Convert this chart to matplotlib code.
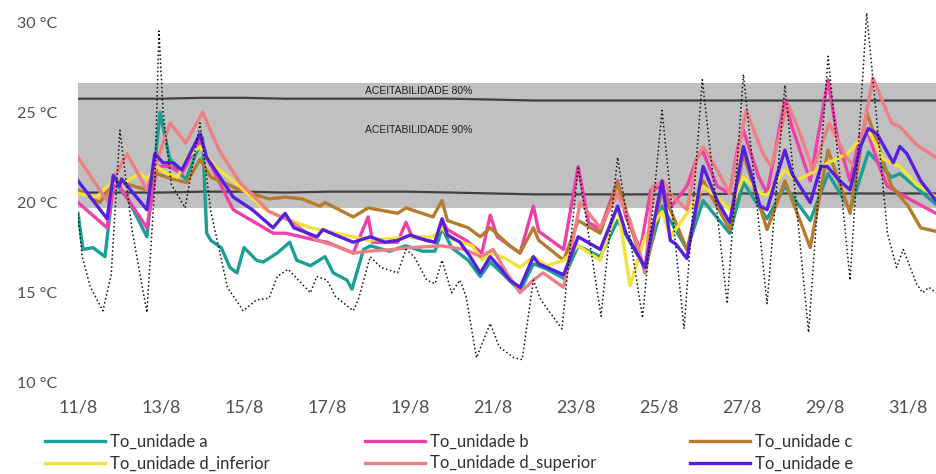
import matplotlib.pyplot as plt

plt.rcParams['font.family'] = ['Lato', 'DejaVu Sans']

# tempo em dias desde 11/8 00h
dias = [0, 2, 4, 6, 8, 10, 12, 14, 16, 18, 20]
rotulos = ["11/8", "13/8", "15/8", "17/8", "19/8", "21/8", "23/8", "25/8", "27/8", "29/8", "31/8"]
temps = [10, 15, 20, 25, 30]
temp_rot = ["10 °C", "15 °C", "20 °C", "25 °C", "30 °C"]

# limites de aceitabilidade
t_lim = [0, 1, 2, 3, 4, 5, 6, 7, 8, 9, 10, 11, 12, 13, 14, 15, 16, 17, 18, 19, 20, 20.67]
sup90 = [25.75, 25.75, 25.75, 25.8, 25.8, 25.75, 25.75, 25.75, 25.75, 25.75, 25.7,
         25.65, 25.65, 25.65, 25.65, 25.65, 25.65, 25.65, 25.65, 25.65, 25.65, 25.65]
inf90 = [20.55, 20.55, 20.55, 20.6, 20.6, 20.55, 20.6, 20.6, 20.6, 20.55, 20.5,
         20.45, 20.45, 20.45, 20.45, 20.45, 20.5, 20.5, 20.5, 20.5, 20.5, 20.5]
sup80 = 26.6
inf80 = 19.7

# exterior
t_ext = [0, 0.1, 0.3, 0.6, 0.8, 1.01, 1.3, 1.66, 1.85, 1.95, 2.05, 2.25, 2.58, 2.94, 3.2,
         3.6, 3.98, 4.3, 4.6, 4.8, 5.06, 5.35, 5.6, 5.75, 6.0, 6.2, 6.63, 6.75, 7.04, 7.3,
         7.7, 7.9, 8.1, 8.4, 8.6, 8.77, 8.9, 9.0, 9.2, 9.35, 9.6, 9.93, 10.15, 10.5, 10.7,
         10.97, 11.15, 11.66, 12.05, 12.6, 13.0, 13.6, 14.07, 14.6, 15.04, 15.64, 16.03,
         16.6, 17.03, 17.6, 18.07, 18.6, 19.0, 19.5, 19.72, 19.88, 20.05, 20.2, 20.35, 20.5, 20.67]
ext = [19.4, 17.0, 15.3, 14.0, 16.0, 24.0, 18.5, 13.9, 21.0, 29.5, 25.0, 21.0, 19.7, 24.4, 19.5,
       15.3, 14.0, 14.6, 14.7, 15.9, 16.3, 15.6, 15.0, 15.9, 15.7, 14.8, 14.0, 14.6, 17.0, 16.4,
       16.1, 17.4, 17.0, 15.7, 15.5, 16.8, 15.8, 15.0, 15.7, 14.8, 11.4, 13.3, 12.0, 11.4, 11.3,
       15.7, 14.6, 13.0, 22.0, 13.7, 22.5, 13.6, 25.1, 13.0, 26.8, 14.4, 27.1,
       14.4, 26.5, 12.8, 28.1, 15.7, 30.5, 18.3, 16.4, 17.4, 16.4, 15.5, 15.0, 15.3, 15.0]

# unidade a
t_a = [0, 0.12, 0.36, 0.65, 0.85, 1.0, 1.2, 1.66, 1.98, 2.2, 2.45, 2.6, 3.0, 3.1, 3.2, 3.45,
       3.66, 3.83, 4.0, 4.3, 4.46, 4.8, 5.1, 5.27, 5.6, 5.95, 6.15, 6.48, 6.6, 6.88, 7.05, 7.5,
       7.9, 8.3, 8.6, 8.77, 9.0, 9.4, 9.69, 9.93, 10.3, 10.65, 10.97, 11.3, 11.7, 12.05, 12.58,
       13.0, 13.3, 13.66, 14.07, 14.67, 15.06, 15.7, 16.03, 16.6, 17.03, 17.64, 18.07, 18.6,
       19.04, 19.6, 19.8, 20.67]
un_a = [19.4, 17.4, 17.5, 17.0, 21.0, 20.8, 20.2, 18.1, 25.0, 22.5, 21.6, 21.3, 23.6, 18.3, 17.9,
        17.5, 16.4, 16.1, 17.5, 16.8, 16.7, 17.2, 17.8, 16.8, 16.5, 17.0, 16.1, 15.7, 15.2, 17.4,
        17.6, 17.3, 17.6, 17.3, 17.3, 18.6, 17.5, 16.8, 15.9, 16.7, 15.9, 15.1, 16.6, 16.3, 15.8,
        17.6, 17.0, 19.0, 17.8, 16.4, 19.8, 17.4, 20.1, 18.3, 21.1, 19.1, 20.9, 19.0, 21.6, 19.6,
        22.8, 21.4, 21.6, 19.9]

# unidade b
t_b = [0, 0.7, 0.88, 1.0, 1.66, 1.9, 2.2, 2.5, 2.94, 3.1, 3.74, 4.7, 5.0, 5.76, 6.0, 6.63, 6.99,
       7.1, 7.7, 7.9, 8.05, 8.6, 8.77, 8.9, 9.35, 9.73, 9.93, 10.1, 10.65, 10.97, 11.1, 11.7,
       12.05, 12.3, 12.58, 13.0, 13.2, 13.55, 13.8, 14.07, 14.3, 14.67, 14.9, 15.04, 15.4, 15.7,
       15.9, 16.03, 16.4, 16.6, 17.03, 17.2, 17.64, 18.07, 18.3, 18.6, 18.85, 19.04, 19.3, 19.5,
       20.1, 20.67]
un_b = [20.0, 18.6, 21.2, 20.9, 18.6, 22.0, 22.0, 21.6, 23.5, 22.5, 19.6, 18.3, 18.3, 17.9, 17.8,
        17.2, 19.2, 17.8, 17.8, 18.9, 18.1, 17.8, 19.0, 18.5, 17.9, 17.2, 19.3, 18.1, 17.2, 19.8,
        18.4, 17.4, 22.0, 18.9, 18.5, 21.2, 19.2, 17.4, 20.7, 20.9, 19.8, 20.9, 22.4, 22.9, 20.9,
        20.5, 23.1, 24.0, 21.4, 20.5, 25.7, 24.2, 21.2, 26.8, 23.5, 21.2, 23.8, 23.8, 22.0, 20.9,
        20.1, 19.4]

# unidade c
t_c = [0, 0.53, 0.88, 1.2, 1.66, 1.9, 2.14, 2.62, 2.94, 3.2, 3.9, 4.6, 5.0, 5.4, 5.83, 5.95,
       6.63, 6.99, 7.7, 7.9, 8.55, 8.77, 8.9, 9.4, 9.69, 9.93, 10.4, 10.65, 10.97, 11.1, 11.7,
       12.05, 12.58, 13.0, 13.66, 14.07, 14.67, 15.06, 15.7, 16.03, 16.6, 17.03, 17.64, 18.07,
       18.6, 19.0, 19.6, 20.0, 20.3, 20.67]
un_c = [20.7, 20.0, 21.2, 21.0, 20.7, 21.6, 21.4, 21.1, 22.4, 21.4, 20.7, 20.2, 20.3, 20.2, 19.8,
        20.0, 19.2, 19.7, 19.4, 19.7, 19.2, 20.1, 19.0, 18.6, 18.1, 18.6, 17.6, 17.2, 18.6, 17.9,
        16.8, 19.0, 18.3, 21.1, 16.1, 20.7, 17.4, 21.2, 18.5, 22.7, 18.5, 21.2, 17.5, 22.9,
        19.4, 25.0, 20.9, 19.8, 18.6, 18.4]

# unidade d inferior
t_di = [0, 0.45, 0.85, 1.0, 1.5, 1.66, 1.9, 2.14, 2.4, 2.62, 2.94, 3.3, 3.9, 4.5, 4.9, 5.6, 6.0,
        6.63, 7.0, 7.5, 8.0, 8.55, 8.77, 9.0, 9.5, 9.73, 9.95, 10.3, 10.65, 10.97, 11.3, 11.7,
        12.05, 12.58, 13.0, 13.3, 13.66, 14.07, 14.27, 14.67, 15.06, 15.4, 15.7, 16.03, 16.45,
        16.6, 17.03, 17.3, 17.64, 18.07, 18.53, 18.85, 19.04, 19.4, 19.8, 20.2, 20.67]
un_di = [20.5, 20.3, 21.2, 21.0, 21.6, 21.3, 22.0, 21.6, 21.4, 22.5, 23.1, 22.0, 20.9, 19.6, 19.2,
         18.6, 18.4, 18.1, 17.9, 18.0, 18.1, 18.1, 18.6, 18.0, 17.6, 16.8, 17.2, 16.9, 16.4, 17.0,
         16.5, 16.8, 17.6, 16.8, 19.8, 15.4, 18.1, 19.5, 18.1, 19.4, 20.9, 20.3, 19.6, 21.4, 20.5,
         20.4, 21.8, 21.2, 21.6, 22.2, 22.7, 23.5, 24.0, 22.4, 22.0, 21.0, 20.3]

# unidade d superior
t_ds = [0, 0.7, 0.88, 1.18, 1.66, 2.22, 2.6, 3.0, 3.4, 3.9, 4.6, 5.1, 5.76, 6.2, 6.63, 7.0, 7.6,
        8.0, 8.77, 9.3, 9.7, 10.0, 10.3, 10.65, 10.97, 11.2, 11.7, 12.1, 12.58, 13.0, 13.3, 13.66,
        13.85, 14.1, 14.3, 14.67, 14.9, 15.06, 15.4, 15.7, 16.1, 16.5, 16.7, 17.1, 17.4, 17.7,
        18.1, 18.5, 18.75, 19.15, 19.6, 19.8, 20.2, 20.67]
un_ds = [22.5, 20.1, 21.4, 22.7, 20.7, 24.4, 23.3, 25.0, 22.9, 21.1, 19.5, 19.0, 17.9, 17.6, 17.2,
         17.3, 17.4, 17.5, 17.6, 17.4, 17.0, 17.4, 16.2, 15.0, 15.7, 16.1, 15.3, 20.0, 18.6, 20.5,
         19.0, 16.2, 20.9, 21.2, 20.4, 19.6, 22.4, 23.1, 21.8, 20.5, 25.1, 22.7, 22.0, 25.5, 23.8,
         21.8, 24.4, 22.5, 21.9, 26.9, 24.4, 24.2, 23.2, 22.5]

# unidade e
t_e = [0, 0.7, 0.85, 1.0, 1.05, 1.66, 1.85, 2.05, 2.3, 2.5, 2.94, 3.1, 3.74, 4.2, 4.7, 4.99, 5.2,
       5.76, 5.9, 6.2, 6.63, 7.04, 7.4, 7.7, 8.0, 8.4, 8.6, 8.77, 8.9, 9.2, 9.45, 9.69, 9.93,
       10.2, 10.4, 10.65, 10.97, 11.1, 11.7, 12.05, 12.58, 13.0, 13.2, 13.66, 14.07, 14.27, 14.4,
       14.67, 15.06, 15.4, 15.7, 16.03, 16.43, 16.6, 16.85, 17.03, 17.2, 17.64, 17.9, 18.05,
       18.35, 18.6, 18.85, 19.04, 19.25, 19.64, 19.8, 19.97, 20.3, 20.67]
un_e = [21.2, 19.1, 21.5, 20.9, 21.3, 19.6, 22.7, 22.2, 22.2, 21.8, 23.8, 22.5, 20.3, 19.6, 18.6,
        19.4, 18.6, 18.1, 18.5, 18.2, 17.8, 18.1, 17.8, 17.9, 18.2, 17.9, 17.8, 19.1, 18.2, 17.8,
        17.0, 16.1, 17.0, 16.3, 15.7, 15.3, 17.0, 16.6, 16.0, 18.1, 17.4, 19.8, 18.3, 16.4, 21.2,
        17.9, 17.7, 16.9, 22.0, 20.1, 18.9, 23.1, 19.8, 19.6, 21.6, 22.9, 21.6, 20.0, 22.0, 22.0,
        21.2, 20.7, 23.1, 24.1, 23.8, 22.2, 23.1, 22.7, 21.2, 20.1]

series = [
    (t_a, un_a, "#1b9e96", "To_unidade a"),
    (t_b, un_b, "#ee40a8", "To_unidade b"),
    (t_c, un_c, "#b47c2c", "To_unidade c"),
    (t_di, un_di, "#f2e33a", "To_unidade d_inferior"),
    (t_ds, un_ds, "#ef7f84", "To_unidade d_superior"),
    (t_e, un_e, "#5520e0", "To_unidade e"),
]

fig = plt.figure(figsize=(9.36, 4.74), dpi=100)
ax = fig.add_axes([78/936, 91/474, 858/936, 383/474])

ax.fill_between([0, 20.67], [inf80, inf80], [sup80, sup80], color="#c0c0c0", lw=0, zorder=0)
ax.plot(t_lim, sup90, color="#404040", lw=1.6, zorder=1)
ax.plot(t_lim, inf90, color="#404040", lw=1.6, zorder=1)
ax.text(8.2, 26.2, "ACEITABILIDADE 80%", fontsize=7.5, family="Liberation Sans",
        ha="center", va="center", color="#202020")
ax.text(8.2, 24.0, "ACEITABILIDADE 90%", fontsize=7.5, family="Liberation Sans",
        ha="center", va="center", color="#202020")

handles = []
for t, v, cor, nome in series:
    ln, = ax.plot(t, v, color=cor, lw=2.4, label=nome, zorder=2)
    handles.append(ln)

ax.plot(t_ext, ext, color="#111111", ls=":", lw=1.1, zorder=3)

ax.set_xlim(0, 20.67)
ax.set_ylim(10, 10 + 383/18.05)
ax.set_xticks(dias)
ax.set_xticklabels(rotulos, fontsize=13, color="#505050")
ax.set_yticks(temps)
ax.set_yticklabels(temp_rot, fontsize=11.5, color="#505050")
ax.tick_params(axis="x", length=0, pad=12)
ax.tick_params(axis="y", length=0, pad=15)
for s in ax.spines.values():
    s.set_visible(False)

# legenda em tres colunas
xs = [45/936, 365/936, 690/936]
for i in range(3):
    par = [handles[i], handles[i + 3]]
    fig.legend(par, [h.get_label() for h in par], loc="upper left",
               bbox_to_anchor=(xs[i], 1 - 434/474), frameon=False, fontsize=12,
               handlelength=3.6, handletextpad=0.3, labelspacing=0.32,
               borderpad=0, borderaxespad=0, labelcolor="#303030")

fig.savefig("out.png", dpi=100)
